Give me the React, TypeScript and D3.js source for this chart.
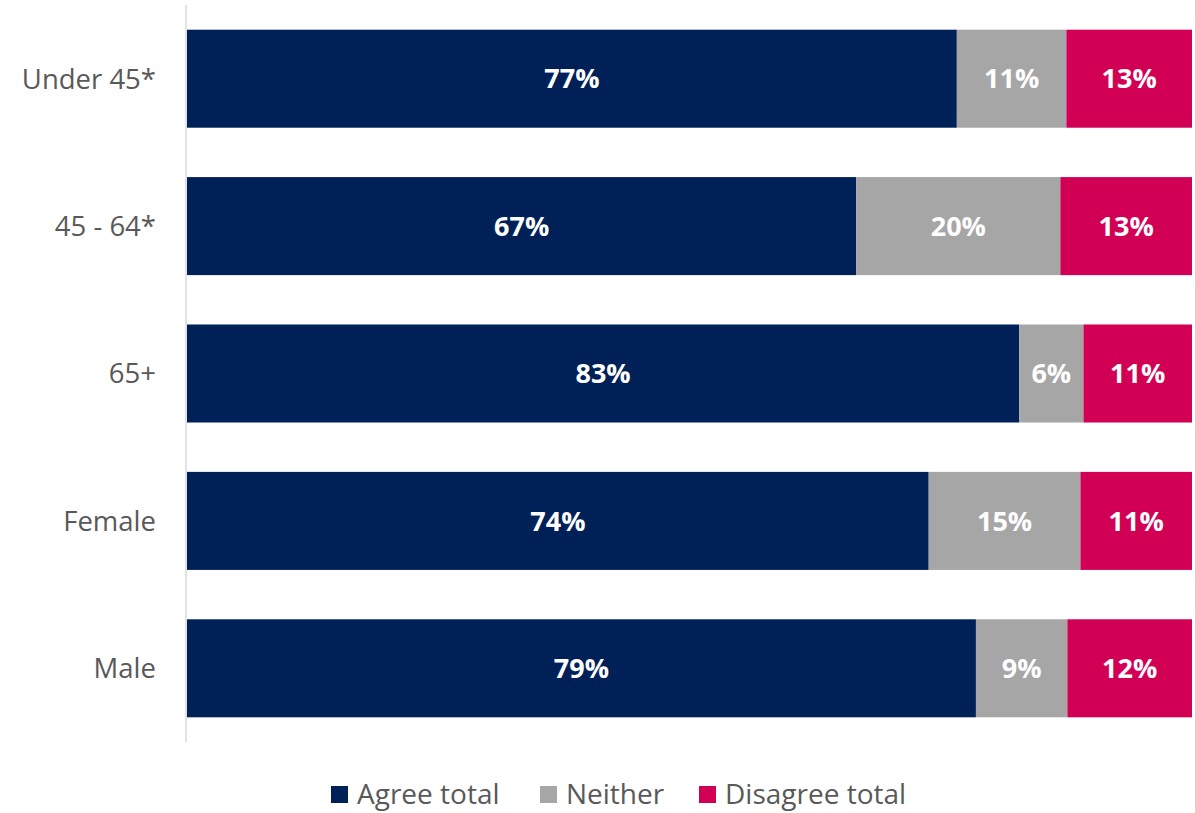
import React from "react";
import * as d3 from "d3";

const categories = ["Under 45*", "45 - 64*", "65+", "Female", "Male"];
const seriesNames = ["Agree total", "Neither", "Disagree total"];
const agree = [76.6, 66.6, 82.8, 73.8, 78.5];
const neither = [10.9, 20.3, 6.4, 15.1, 9.1];
const disagree = [12.5, 13.1, 10.8, 11.1, 12.4];
const colors = ["#002157", "#A6A6A6", "#D20055"];

const W = 1195;
const H = 813;
const FONT = "'Open Sans', 'Noto Sans', sans-serif";

export default function App() {
  const x = d3.scaleLinear().domain([0, 100]).range([187, 1192]);
  const y = d3
    .scaleBand<string>()
    .domain(categories)
    .range([5, 742])
    .paddingInner(0.335)
    .paddingOuter(0.1675);

  const rows = categories.map((c, i) => ({ cat: c, agree: agree[i], neither: neither[i], disagree: disagree[i] }));
  const stack = d3.stack<any>().keys(["agree", "neither", "disagree"]);
  const layers = stack(rows);

  const legendItems = [
    { x: 331, label: seriesNames[0], color: colors[0] },
    { x: 540, label: seriesNames[1], color: colors[1] },
    { x: 699, label: seriesNames[2], color: colors[2] },
  ];

  return (
    <svg
      width={W}
      height={H}
      style={{ position: "absolute", left: 0, top: 0, background: "#fff" }}
    >
      {layers.map((layer, li) => (
        <g key={li}>
          {layer.map((d, i) => {
            const x0 = x(d[0]);
            const x1 = x(d[1]);
            const yy = y(categories[i])!;
            const v = d[1] - d[0];
            return (
              <g key={i}>
                <rect x={x0} y={yy} width={x1 - x0} height={y.bandwidth()} fill={colors[li]} />
                <text
                  x={(x0 + x1) / 2}
                  y={yy + y.bandwidth() / 2}
                  dy="0.36em"
                  textAnchor="middle"
                  fill="#fff"
                  fontFamily={FONT}
                  fontWeight={700}
                  fontSize={27}
                >
                  {Math.round(v)}%
                </text>
              </g>
            );
          })}
        </g>
      ))}
      <line x1={186} x2={186} y1={5} y2={742} stroke="#D9D9D9" strokeWidth={1.5} />
      {categories.map((c) => (
        <text
          key={c}
          x={156}
          y={y(c)! + y.bandwidth() / 2}
          dy="0.36em"
          textAnchor="end"
          fill="#595959"
          fontFamily={FONT}
          fontSize={27.5}
        >
          {c}
        </text>
      ))}
      {legendItems.map((l) => (
        <g key={l.label}>
          <rect x={l.x} y={786} width={17} height={17} fill={l.color} />
          <text x={l.x + 26} y={804} fill="#595959" fontFamily={FONT} fontSize={28}>
            {l.label}
          </text>
        </g>
      ))}
    </svg>
  );
}
